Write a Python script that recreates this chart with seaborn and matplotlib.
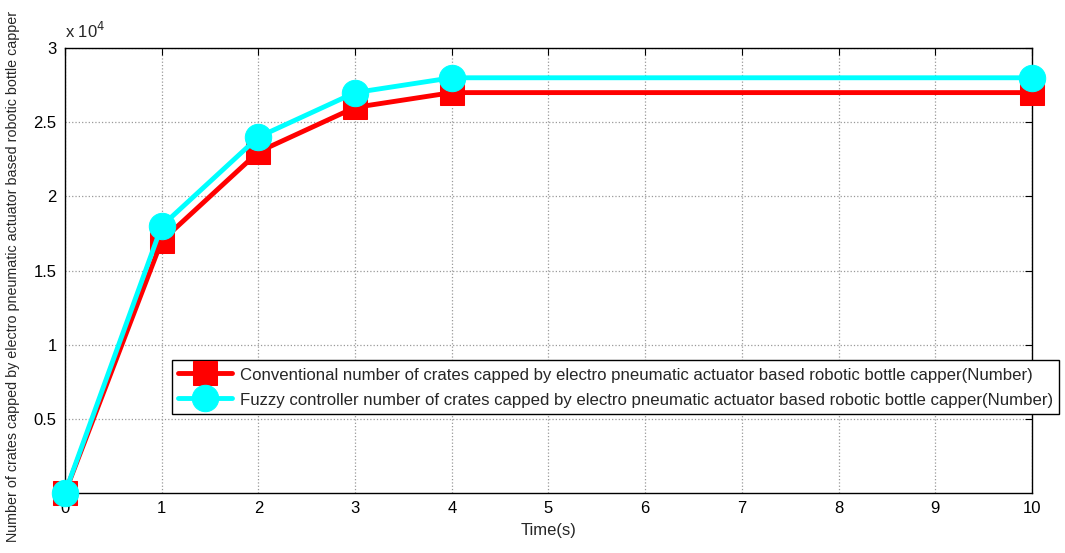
import numpy as np
import pandas as pd
import matplotlib
matplotlib.use('Agg')
import matplotlib.pyplot as plt
import seaborn as sns

# Veri
time_s = [0, 1, 2, 3, 4, 10]
conventional = [0, 17000, 23000, 26000, 27000, 27000]
fuzzy = [0, 18000, 24000, 27000, 28000, 28000]
y_ticks = [5000, 10000, 15000, 20000, 25000, 30000]
y_tick_labels = ['0.5', '1', '1.5', '2', '2.5', '3']
x_ticks = list(range(0, 11))

conv_label = 'Conventional number of crates capped by electro pneumatic actuator based robotic bottle capper(Number)'
fuzzy_label = 'Fuzzy controller number of crates capped by electro pneumatic actuator based robotic bottle capper(Number)'
y_label = 'Number of crates capped by electro pneumatic actuator based robotic bottle capper'

sns.set_style('white')
plt.rcParams['font.family'] = ['Liberation Sans', 'DejaVu Sans']

fig = plt.figure(figsize=(10.65, 5.53), dpi=100)
ax = fig.add_axes([0.061, 0.1085, 0.908, 0.8045])

df = pd.DataFrame({'t': time_s, 'conv': conventional, 'fuzzy': fuzzy})
sns.lineplot(data=df, x='t', y='conv', ax=ax, color='red', linewidth=3.5,
             marker='s', markersize=17, markeredgecolor='red', label=conv_label,
             clip_on=False, zorder=5)
sns.lineplot(data=df, x='t', y='fuzzy', ax=ax, color='cyan', linewidth=3.5,
             marker='o', markersize=19, markeredgecolor='cyan', label=fuzzy_label,
             clip_on=False, zorder=6)

ax.set_xlim(0, 10)
ax.set_ylim(0, 30000)
ax.set_xticks(x_ticks)
ax.set_yticks(y_ticks)
ax.set_yticklabels(y_tick_labels)
ax.tick_params(direction='in', length=5, top=True, right=True, labelsize=12,
               colors='black', pad=6)
ax.grid(True, linestyle=':', color='#999999', linewidth=0.9)
for s in ax.spines.values():
    s.set_color('black')
    s.set_linewidth(1.0)
    s.set_visible(True)
ax.set_xlabel('Time(s)', fontsize=12, labelpad=5)
ax.set_ylabel('')

fig.text(0.012, 0.5, y_label, rotation=90, ha='center', va='center', fontsize=10.3)
fig.text(0.061, 0.925, r'x 10$^{4}$', fontsize=12, ha='left', va='bottom')

leg = ax.legend(loc='upper left', bbox_to_anchor=(0.1615, 0.349), bbox_transform=fig.transFigure,
                fancybox=False, edgecolor='black', framealpha=1, fontsize=12.1,
                handlelength=3.2, handleheight=1.1, borderpad=0.38, labelspacing=0.45,
                handletextpad=0.45, borderaxespad=0)
leg.get_frame().set_linewidth(1.0)
leg.set_zorder(10)

fig.savefig('out.png', dpi=100)
